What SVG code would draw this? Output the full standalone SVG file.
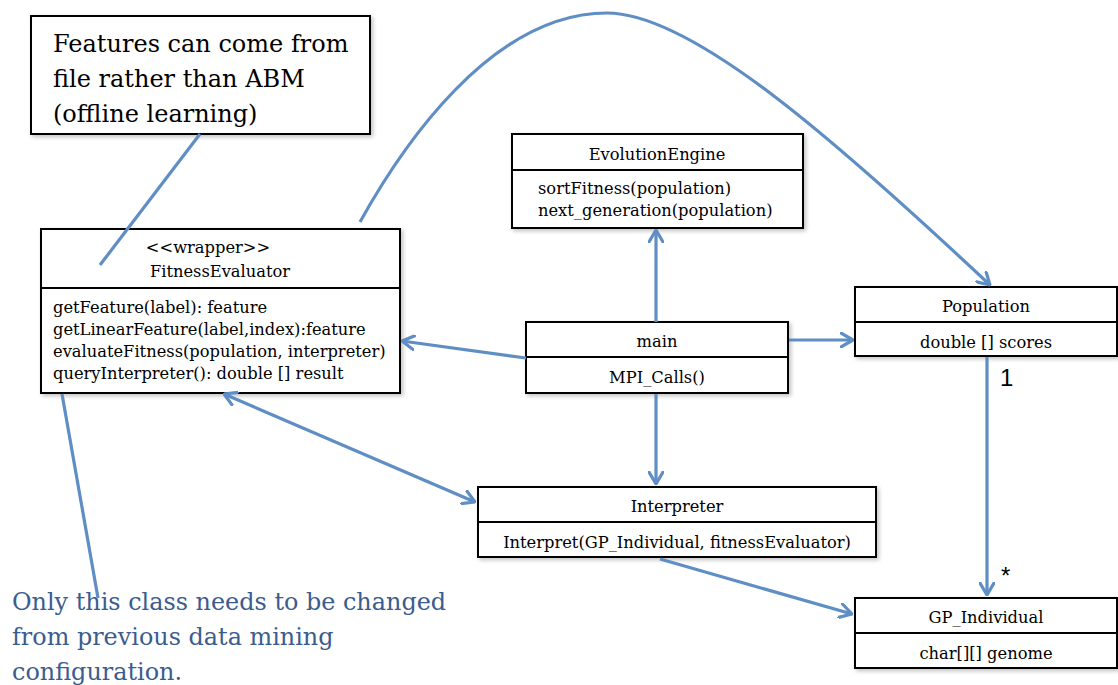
<svg xmlns="http://www.w3.org/2000/svg" width="1118" height="685" viewBox="0 0 1118 685">
  <style>
    .box { fill: #ffffff; stroke: #000000; stroke-width: 2; }
    .div { stroke: #000000; stroke-width: 2; }
    .cls { font-family: "DejaVu Serif", "Liberation Serif", serif; font-size: 16.3px; fill: #000000; }
    .mid { text-anchor: middle; }
    .note { font-family: "DejaVu Serif", "Liberation Serif", serif; font-size: 24px; fill: #000000; }
    .remark { font-family: "DejaVu Serif", "Liberation Serif", serif; font-size: 23.9px; fill: #3A5C8E; }
    .mult { font-family: "Liberation Sans", "DejaVu Sans", sans-serif; font-size: 24px; fill: #000000; }
    .link { fill: none; stroke: #5F8EC5; stroke-width: 3.2; }
  </style>
  <defs>
    <marker id="head" viewBox="0 0 14 16" refX="13" refY="8" markerWidth="14" markerHeight="16" markerUnits="userSpaceOnUse" orient="auto-start-reverse">
      <path d="M1,1 L13,8 L1,15" fill="none" stroke="#5F8EC5" stroke-width="3.2" stroke-linecap="round" stroke-linejoin="round"/>
    </marker>
    <filter id="shadow" x="-5%" y="-5%" width="112%" height="115%">
      <feGaussianBlur in="SourceAlpha" stdDeviation="2"/>
      <feOffset dx="2" dy="2" result="b"/>
      <feComponentTransfer><feFuncA type="linear" slope="0.25"/></feComponentTransfer>
      <feMerge><feMergeNode/><feMergeNode in="SourceGraphic"/></feMerge>
    </filter>
  </defs>

  <!-- note box -->
  <g id="note-offline">
    <rect class="box" x="31" y="16" width="339" height="118" filter="url(#shadow)"/>
    <text class="note" x="53" y="52">Features can come from</text>
    <text class="note" x="53" y="87">file rather than ABM</text>
    <text class="note" x="53" y="122">(offline learning)</text>
  </g>

  <!-- FitnessEvaluator -->
  <g id="fitness-evaluator">
    <rect class="box" x="41" y="229" width="359" height="164" filter="url(#shadow)"/>
    <line class="div" x1="41" y1="288" x2="400" y2="288"/>
    <text class="cls mid" x="208" y="253">&lt;&lt;wrapper&gt;&gt;</text>
    <text class="cls mid" x="220" y="277">FitnessEvaluator</text>
    <text class="cls" x="53" y="313">getFeature(label): feature</text>
    <text class="cls" x="53" y="335">getLinearFeature(label,index):feature</text>
    <text class="cls" x="53" y="357">evaluateFitness(population, interpreter)</text>
    <text class="cls" x="53" y="379">queryInterpreter(): double [] result</text>
  </g>

  <!-- EvolutionEngine -->
  <g id="evolution-engine">
    <rect class="box" x="512" y="134" width="291" height="94" filter="url(#shadow)"/>
    <line class="div" x1="512" y1="170" x2="803" y2="170"/>
    <text class="cls mid" x="657" y="160">EvolutionEngine</text>
    <text class="cls" x="538" y="194">sortFitness(population)</text>
    <text class="cls" x="538" y="216">next_generation(population)</text>
  </g>

  <!-- main -->
  <g id="main">
    <rect class="box" x="526" y="322" width="262" height="71" filter="url(#shadow)"/>
    <line class="div" x1="526" y1="357" x2="788" y2="357"/>
    <text class="cls mid" x="657" y="347">main</text>
    <text class="cls mid" x="657" y="383">MPI_Calls()</text>
  </g>

  <!-- Population -->
  <g id="population">
    <rect class="box" x="855" y="287" width="262" height="69" filter="url(#shadow)"/>
    <line class="div" x1="855" y1="322" x2="1117" y2="322"/>
    <text class="cls mid" x="986" y="312">Population</text>
    <text class="cls mid" x="986" y="348">double [] scores</text>
  </g>

  <!-- Interpreter -->
  <g id="interpreter">
    <rect class="box" x="478" y="487" width="398" height="70" filter="url(#shadow)"/>
    <line class="div" x1="478" y1="522" x2="876" y2="522"/>
    <text class="cls mid" x="677" y="512">Interpreter</text>
    <text class="cls mid" x="677" y="548">Interpret(GP_Individual, fitnessEvaluator)</text>
  </g>

  <!-- GP_Individual -->
  <g id="gp-individual">
    <rect class="box" x="855" y="598" width="262" height="70" filter="url(#shadow)"/>
    <line class="div" x1="855" y1="633" x2="1117" y2="633"/>
    <text class="cls mid" x="986" y="623">GP_Individual</text>
    <text class="cls mid" x="986" y="659">char[][] genome</text>
  </g>

  <!-- remark -->
  <g id="remark">
    <text class="remark" x="12" y="610">Only this class needs to be changed</text>
    <text class="remark" x="12" y="645">from previous data mining</text>
    <text class="remark" x="12" y="680">configuration.</text>
  </g>

  <!-- connectors -->
  <g id="connectors">
    <line class="link" x1="200" y1="134" x2="100" y2="265"/>
    <line class="link" x1="62" y1="394" x2="98" y2="598"/>
    <path class="link" d="M360,222 C400,150 490,13 607,13 C690,13 830,135 990,285" marker-end="url(#head)"/>
    <line class="link" x1="656" y1="322" x2="656" y2="230" marker-end="url(#head)"/>
    <line class="link" x1="526" y1="358" x2="402" y2="341" marker-end="url(#head)"/>
    <line class="link" x1="789" y1="340" x2="853" y2="340" marker-end="url(#head)"/>
    <line class="link" x1="656" y1="394" x2="656" y2="484" marker-end="url(#head)"/>
    <line class="link" x1="224" y1="394" x2="475" y2="502" marker-start="url(#head)" marker-end="url(#head)"/>
    <line class="link" x1="660" y1="559" x2="852" y2="614" marker-end="url(#head)"/>
    <line class="link" x1="987" y1="357" x2="987" y2="595" marker-end="url(#head)"/>
    <text class="mult" x="1000" y="386">1</text>
    <text class="mult" x="1001" y="584">*</text>
  </g>
</svg>
